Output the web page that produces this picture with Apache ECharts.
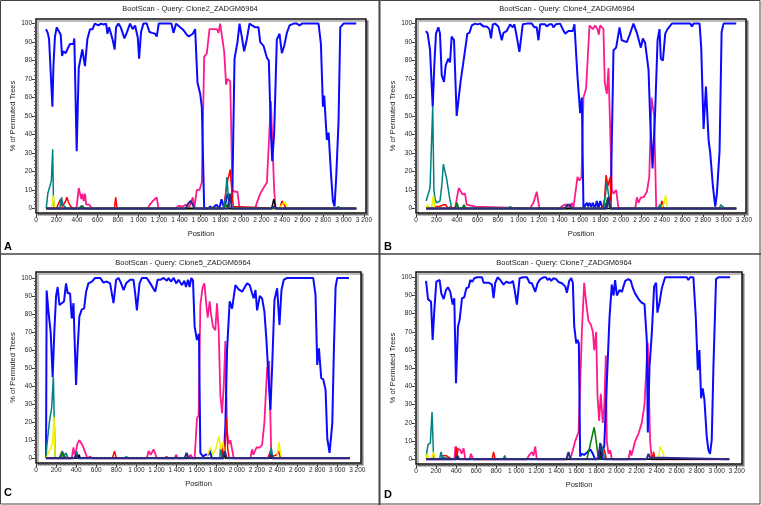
<!DOCTYPE html>
<html>
<head>
<meta charset="utf-8">
<script src="https://cdn.jsdelivr.net/npm/echarts@6/dist/echarts.min.js"></script>
<style>
  html, body { margin: 0; padding: 0; background: #fff; }
  #chart { width: 761px; height: 505px; }
</style>
</head>
<body>
<div id="chart"></div>
<script>
// tick labels
var xTicks = [0, 200, 400, 600, 800, 1000, 1200, 1400, 1600, 1800, 2000, 2200, 2400, 2600, 2800, 3000, 3200];
var yTicks = [0, 10, 20, 30, 40, 50, 60, 70, 80, 90, 100];
var titles = ['BootScan - Query: Clone2_ZADGM6964', 'BootScan - Query: Clone4_ZADGM6964',
              'BootScan - Query: Clone5_ZADGM6964', 'BootScan - Query: Clone7_ZADGM6964'];
var letters = ['A', 'B', 'C', 'D'];

// ---- panel A (Clone2) ----
var blueA = [[98,97],[114,95],[127,92],[137,93],[146,92],[160,55],[170,77],[185,93],[202,98],[221,98],[241,94],[254,82.5],[267,85],[290,84],[309,86.5],[332,89],[365,89],[374,92],[397,31],[417,76],[430,75],[452,86],[478,77],[501,91.5],[527,97],[553,97],[573,100],[609,99],[632,100],[658,99.5],[684,100],[697,94.5],[713,98],[729,95],[749,91],[768,86],[781,98],[804,100],[827,98],[863,92],[885,95],[918,100],[944,97],[967,99],[993,92.5],[1006,81],[1025,95.5],[1048,100],[1081,100],[1107,95.5],[1133,95],[1162,94.5],[1178,93],[1198,100],[1322,100],[1341,95],[1367,100],[1406,98],[1439,96.5],[1471,94],[1491,93],[1510,93],[1530,94.5],[1553,97],[1576,68],[1602,62],[1618,55],[1641,0],[1680,0],[1700,1],[1720,0],[1760,2],[1790,0],[1810,5],[1830,1],[1850,3],[1870,8],[1890,4],[1915,6],[1937,81],[1953,86],[1966,90],[1986,100],[2008,93],[2031,85],[2057,91.5],[2083,100],[2109,99],[2139,98],[2171,98],[2188,90],[2220,88],[2253,81.5],[2272,80],[2292,41],[2305,25.6],[2324,41],[2350,91.5],[2376,94.5],[2399,84],[2422,88],[2448,95],[2474,99],[2513,100],[2546,100],[2572,99],[2594,100],[2757,100],[2780,89],[2800,55],[2812,61],[2838,37],[2855,41],[2878,19],[2897,4],[2913,1],[2930,17.5],[2952,47],[2969,98],[3001,100],[3125,100]];
var pinkA = [[395,0],[405,5],[417,11],[430,11],[442,5],[452,8],[465,4],[478,8],[490,2],[520,2],[545,0],[1090,0],[1110,2],[1140,4],[1178,6],[1195,0],[1330,0],[1345,1],[1360,0],[1395,1.5],[1430,1],[1460,2],[1490,0],[1510,3],[1530,6],[1545,0],[1555,0],[1569,10],[1595,10],[1618,14],[1641,82],[1667,84],[1693,97],[1732,97],[1764,97],[1781,95],[1797,100],[1823,90],[1836,85],[1855,67],[1868,70],[1895,69],[1917,10],[1940,9],[1966,9],[1986,0],[2139,0],[2155,3],[2188,8],[2220,11],[2253,14],[2272,15],[2292,58],[2305,58],[2324,10],[2337,0]];
var redA = [[200,0],[215,2],[240,5],[255,1],[270,2],[290,4],[300,6],[320,3],[340,1],[360,0],[765,0],[778,6],[790,0],[1830,0],[1850,8],[1870,15],[1895,21],[1910,10],[1925,1],[1940,0],[2380,0],[2400,4],[2420,2],[2440,0]];
var tealA = [[100,0],[115,8],[130,7],[150,15],[163,32],[170,5],[178,0],[230,0],[250,6],[262,2],[280,1],[300,0],[420,0],[445,1.5],[460,0],[888,0],[900,1],[912,0],[1830,0],[1850,6],[1862,17],[1875,8],[1890,0],[2930,0],[2950,1],[2970,0],[3030,0],[3040,1],[3050,0]];
var yellowA = [[150,0],[170,7],[180,0],[470,0],[478,1],[490,0],[2380,0],[2400,2],[2430,3.5],[2460,0]];
var greenA = [[440,0],[455,1.5],[470,0],[1830,0],[1860,2],[1880,0]];
var navyA = [[1460,0],[1490,3],[1510,4],[1530,2],[1545,0],[1870,0],[1895,8],[1910,0],[2300,0],[2320,1],[2340,0]];
var blackA = [[440,0],[455,1],[470,0],[2300,0],[2320,5],[2340,0]];

// ---- panel B (Clone4) ----
var blueB = [[98,96],[114,94.6],[137,85.6],[163,55],[179,78],[195,94.6],[218,98],[234,94.6],[251,72],[273,68.5],[290,77.5],[316,81],[332,79],[348,93],[371,91],[397,50],[417,60],[436,69],[462,79],[478,79],[501,94.6],[521,95],[544,99],[576,100],[599,99.6],[625,100],[658,98.5],[690,98.5],[716,97],[732,92],[749,99.6],[772,100],[804,98.5],[837,91],[853,95],[885,96],[918,99.6],[944,98],[960,99.6],[983,93],[1009,84.7],[1042,99.6],[1081,100],[1130,100],[1156,98],[1178,98],[1195,91],[1211,99.6],[1260,99.6],[1276,98.5],[1302,99.6],[1325,99.6],[1341,98],[1364,99.6],[1406,100],[1432,97],[1455,94.6],[1488,96],[1530,96],[1546,99.6],[1562,99],[1576,71],[1602,51.5],[1618,60],[1634,0],[1650,0],[1667,3],[1680,1],[1693,3],[1710,1],[1725,3],[1745,0],[1764,4],[1780,0],[1797,4],[1815,1],[1840,0],[1880,6],[1900,4],[1927,85.6],[1953,87],[1966,86],[1986,98],[2008,91],[2057,90],[2083,93.7],[2122,100],[2155,95],[2171,95],[2194,87],[2214,92],[2236,89.5],[2253,90],[2269,75],[2285,48],[2308,21.6],[2334,53],[2357,91],[2376,97],[2389,81],[2409,80],[2432,94.6],[2454,97],[2497,100],[2676,100],[2692,98.5],[2708,100],[2767,100],[2783,87],[2806,43],[2829,66],[2855,37],[2871,30],[2897,12],[2920,1],[2936,8],[2962,31],[2982,95.5],[3001,100],[3125,100]];
var pinkB = [[381,0],[397,5],[417,11],[436,10],[455,7.5],[470,7],[478,8],[495,2],[510,1],[576,1],[592,0],[1113,0],[1146,3],[1162,2],[1178,9],[1204,0],[1400,0],[1422,1],[1450,2],[1471,2],[1490,0],[1500,1],[1520,3],[1535,0],[1553,0],[1576,17],[1595,15],[1615,17],[1634,60],[1660,65],[1693,99],[1725,97],[1748,99],[1771,97],[1784,94],[1797,99],[1829,97],[1842,68],[1862,62],[1878,76],[1895,77],[1911,10],[1927,8],[1953,10],[1976,0],[2139,0],[2155,6],[2171,3],[2194,6],[2220,6],[2253,9],[2276,17],[2298,60],[2324,50],[2344,0]];
var redB = [[180,0],[200,1],[230,1],[270,2],[290,2],[310,0],[340,1],[360,0],[1280,0],[1295,1],[1310,0],[1820,0],[1840,5],[1855,18],[1872,12],[1895,17],[1905,0],[2380,0],[2400,4],[2415,0]];
var tealB = [[98,4],[114,5],[137,11],[163,55],[175,10],[186,5],[200,3],[218,2],[234,4],[251,12],[267,24],[283,25],[299,16],[316,15],[330,5],[348,0],[385,0],[400,3],[415,0],[900,0],[920,1],[940,0],[1830,0],[1850,8],[1862,14],[1880,7],[1895,0],[2360,0],[2380,2],[2400,0],[2960,0],[2975,2],[2990,1],[3010,0]];
var yellowB = [[100,0],[114,2],[130,0],[150,0],[170,7],[185,0],[740,0],[755,1],[770,0],[2400,0],[2420,3],[2436,7],[2455,0]];
var greenB = [[380,0],[400,3],[415,0],[450,0],[470,2],[485,0],[1600,0],[1615,1],[1630,0],[1850,0],[1870,6],[1890,0]];
var navyB = [[400,0],[415,1],[430,0],[920,0],[935,1],[950,0],[1450,0],[1480,2],[1500,2],[1520,0],[1860,0],[1880,6],[1895,0]];
var blackB = [[410,0],[420,1],[430,0],[2360,0],[2375,1],[2390,0]];

// ---- panel C (Clone5) ----
var blueC = [[106,93],[123,82],[146,70],[166,45],[183,71],[200,90],[216,95],[233,85],[256,86],[279,87],[299,97],[316,91.5],[339,91.5],[356,77.6],[373,86],[399,40.7],[412,58],[432,78.6],[456,82.6],[479,83],[499,92.4],[522,97],[556,98],[589,100],[639,100],[672,97.4],[705,98],[738,97],[772,86],[798,99],[822,100],[845,97.4],[872,93.3],[898,97],[938,99],[971,99],[988,91.5],[1005,82],[1031,97],[1055,100],[1104,100],[1138,97],[1154,98],[1188,92.4],[1211,99],[1238,99],[1271,100],[1304,98.5],[1321,100],[1344,98],[1371,100],[1397,97],[1420,99],[1454,96],[1477,98.5],[1494,95],[1514,99],[1530,95],[1547,100],[1564,98.5],[1580,73],[1603,65.6],[1623,69],[1637,3],[1663,1],[1690,2],[1703,3],[1720,2],[1736,5],[1750,0],[1870,0],[1886,18],[1903,60],[1929,87],[1953,83],[1986,96],[2019,93.7],[2053,92.4],[2102,97],[2129,96],[2152,91.5],[2169,88.7],[2186,93.3],[2202,82],[2229,90],[2252,88.7],[2275,81.3],[2295,65.6],[2319,41.6],[2335,26.8],[2352,50.8],[2375,87.8],[2402,94.3],[2425,74],[2445,93.3],[2468,99],[2502,100],[2761,100],[2784,90.6],[2801,51.8],[2818,61],[2841,44.4],[2861,43.8],[2884,38],[2901,11],[2924,3],[2951,19.4],[2967,60],[2984,95],[3000,100],[3117,100]];
var pinkC = [[356,0],[373,6],[385,2],[399,4],[412,8],[432,10],[456,8],[472,6],[485,6],[512,0],[539,1],[560,0],[1104,0],[1121,4],[1144,2],[1171,5],[1204,0],[1380,0],[1397,2],[1410,0],[1520,0],[1540,2],[1560,0],[1580,0],[1603,22],[1620,24],[1637,85],[1660,95],[1677,97],[1697,85],[1710,78],[1730,87],[1743,80],[1763,73],[1786,71],[1803,86],[1820,70],[1836,35],[1853,25],[1870,40],[1886,65],[1903,15],[1919,8],[1936,10],[1970,0],[2136,0],[2152,5],[2165,2],[2196,6],[2229,6],[2252,7.5],[2275,20],[2302,50],[2322,54],[2342,5],[2352,0]];
var redC = [[230,0],[245,2],[260,4],[275,4],[290,1],[310,0],[760,0],[782,4],[800,0],[830,0],[845,1],[860,0],[1280,0],[1300,1],[1320,0],[1850,0],[1865,7],[1880,4],[1896,22],[1910,5],[1925,0],[2310,0],[2335,4],[2350,1],[2400,2],[2419,4],[2435,0]];
var tealC = [[106,6],[133,20],[156,28],[173,45],[190,0],[240,0],[260,4],[275,1],[300,3],[320,0],[390,0],[405,4],[420,1],[440,0],[880,0],[900,1],[920,0],[1830,0],[1840,7],[1850,1],[1870,0],[2330,0],[2342,6],[2360,0]];
var yellowC = [[100,0],[140,5],[166,8],[180,23],[190,0],[1700,0],[1736,6],[1760,2],[1790,5],[1820,12],[1843,5],[1863,9],[1880,0],[2400,0],[2419,9],[2435,3],[2450,0]];
var greenC = [[250,0],[265,3],[280,0],[400,0],[410,2],[425,0],[1860,0],[1875,4],[1890,0]];
var navyC = [[380,0],[400,2],[420,0],[1480,0],[1500,3],[1520,0],[1860,0],[1880,4],[1900,0],[2320,0],[2340,2],[2360,0]];
var blackC = [[420,0],[430,2],[440,0],[1860,0],[1872,3],[1885,0]];

// ---- panel D (Clone7) ----
var blueD = [[100,98],[120,88],[133,89],[150,86.6],[166,65.6],[183,82],[203,97.6],[236,98.5],[253,91],[276,88],[299,93],[319,94.5],[342,92],[366,85],[382,88.5],[399,41.8],[419,73],[435,76.5],[459,88.5],[482,89],[502,94],[525,94.5],[542,98.5],[562,97.6],[582,99.5],[608,100],[658,100],[675,97],[725,97],[758,96],[774,88.5],[791,97],[814,100],[841,98.5],[874,96],[901,97.6],[924,97],[947,97],[967,98],[984,93],[1007,85],[1034,99.5],[1067,100],[1107,100],[1133,97],[1157,96.7],[1173,97.6],[1190,92],[1213,96.7],[1240,99],[1273,100],[1296,100],[1313,98.5],[1333,99.5],[1349,98],[1373,99.5],[1399,99],[1422,97.4],[1456,96.7],[1489,95],[1506,91.5],[1529,98],[1549,99.5],[1565,97],[1579,73],[1599,63.7],[1612,65.6],[1625,63.7],[1638,1.5],[1655,3],[1678,2.4],[1712,4],[1738,5.5],[1765,3],[1788,0],[1838,1],[1878,7],[1904,42],[1931,78],[1954,96],[1971,90],[1987,98.5],[2004,90],[2031,93],[2054,92],[2087,98],[2120,99],[2144,98],[2164,94],[2187,91],[2203,92],[2227,87.5],[2253,86],[2280,85.3],[2303,65.6],[2313,14.7],[2330,51],[2353,69],[2376,95],[2396,97],[2409,80.6],[2429,85.7],[2453,94],[2486,100],[2702,100],[2718,98.5],[2735,100],[2768,100],[2792,78],[2812,49],[2828,60],[2845,33.5],[2861,39],[2878,32.6],[2901,12.5],[2918,5],[2934,3],[2951,10.6],[2968,51],[2994,99],[3018,100],[3134,100]];
var pinkD = [[385,0],[393,7],[409,2],[419,6],[442,5],[455,3],[475,6],[492,0],[535,0],[548,3],[568,0],[1107,0],[1125,2],[1157,4],[1173,2],[1190,7],[1206,0],[1539,0],[1565,5],[1589,10],[1622,15],[1638,40],[1655,70],[1678,97],[1698,86],[1721,76],[1745,74],[1765,70],[1778,60],[1798,70],[1811,35],[1828,21],[1844,36],[1864,20],[1878,28],[1894,57],[1904,10],[1921,3],[1938,5],[1954,0],[2120,0],[2137,5],[2150,2],[2187,10],[2220,14],[2253,20],[2280,30],[2303,55],[2313,64],[2336,10],[2353,0]];
var redD = [[250,0],[265,2],[300,2],[330,1],[360,0],[390,0],[402,7],[415,0],[760,0],[774,4],[790,0],[1270,0],[1285,1],[1300,0],[1820,0],[1840,8],[1860,6],[1880,5],[1900,0],[2355,0],[2370,4],[2385,0]];
var tealD = [[103,2],[120,8],[143,9],[160,26],[176,0],[235,0],[249,4],[265,1],[280,0],[400,0],[410,2],[425,0],[870,0],[885,2],[900,0],[1830,0],[1850,8],[1870,3],[1890,0],[2960,0],[2975,1],[2990,0]];
var yellowD = [[100,0],[110,3],[130,0],[150,0],[176,4],[190,0],[700,0],[715,1],[730,0],[2420,0],[2436,7],[2455,6],[2469,3],[2480,0]];
var greenD = [[400,0],[415,1],[430,0],[1705,0],[1738,8],[1778,17.6],[1798,10],[1820,0]];
var navyD = [[400,0],[415,2],[430,0],[1330,0],[1345,1],[1360,0],[1500,0],[1522,4],[1540,0],[1820,0],[1838,9],[1850,5],[1865,0],[2300,0],[2320,3],[2335,1],[2350,0]];
var blackD = [[1825,0],[1838,8],[1850,0]];

var panelData = [
  {pink: pinkA, blue: blueA, red: redA, teal: tealA, yellow: yellowA, green: greenA, black: blackA, navy: navyA},
  {pink: pinkB, blue: blueB, red: redB, teal: tealB, yellow: yellowB, green: greenB, black: blackB, navy: navyB},
  {pink: pinkC, blue: blueC, red: redC, teal: tealC, yellow: yellowC, green: greenC, black: blackC, navy: navyC},
  {pink: pinkD, blue: blueD, red: redD, teal: tealD, yellow: yellowD, green: greenD, black: blackD, navy: navyD}
];

// layout of the four panels
var layout = [
  {left: 36,  top: 19,  width: 330, height: 194, xMax: 3220, yMin: -2.5, yMax: 102.5, titleX: 190, titleY: 9,   letterX: 4,   letterY: 247},
  {left: 416, top: 19,  width: 330, height: 194, xMax: 3220, yMin: -2.5, yMax: 102.5, titleX: 567, titleY: 9,   letterX: 384, letterY: 247},
  {left: 36,  top: 272, width: 325, height: 191, xMax: 3237, yMin: -2.6, yMax: 103.3, titleX: 183, titleY: 263, letterX: 4,   letterY: 493},
  {left: 416, top: 272, width: 326, height: 192, xMax: 3253, yMin: -2.6, yMax: 102.9, titleX: 564, titleY: 263, letterX: 384, letterY: 495}
];

var colors = {pink: '#ff1a8c', blue: '#0a0aff', red: '#ff0000', teal: '#008080', yellow: '#f2f200', green: '#008000', black: '#000000', navy: '#2a2a8c'};
var widths = {pink: 1.8, blue: 2, red: 1.5, teal: 1.5, yellow: 1.5, green: 1.5, black: 1.5, navy: 2};
var order = ['pink', 'blue', 'red', 'teal', 'yellow', 'green', 'black', 'navy'];

var xMinor = [];
for (var v = 0; v <= 3200; v += 40) xMinor.push(v);
var yMinor = [];
for (var w = 0; w <= 100; w += 2) yMinor.push(w);

var font = 'Liberation Sans, Arial, sans-serif';

function fmtPos(v) {
  if (v < 1000) return String(v);
  var r = v % 1000;
  return Math.floor(v / 1000) + ' ' + (r < 10 ? '00' : r < 100 ? '0' : '') + r;
}

// lines sit at 0 outside their bumps
function withBase(pts) {
  var out = pts.slice();
  if (out[0][0] > 105) out.unshift([100, 0]);
  if (out[out.length - 1][0] < 3100) out.push([3125, 0]);
  return out;
}

var grids = [], xAxes = [], yAxes = [], series = [], graphics = [];

layout.forEach(function (p, i) {
  grids.push({
    left: p.left, top: p.top, width: p.width, height: p.height,
    show: true, backgroundColor: '#fff', borderColor: '#111', borderWidth: 1.5,
    shadowColor: 'rgba(0,0,0,0.35)', shadowOffsetX: 2, shadowOffsetY: 2, shadowBlur: 0
  });
  // main axes
  xAxes.push({
    type: 'value', gridIndex: i, min: 0, max: p.xMax, position: 'bottom',
    name: 'Position', nameLocation: 'middle', nameGap: 17,
    nameTextStyle: {fontSize: 7.5, color: '#222', fontFamily: font},
    axisLine: {show: false, onZero: false},
    axisTick: {show: true, customValues: xTicks, length: 4, lineStyle: {color: '#333'}},
    axisLabel: {customValues: xTicks, formatter: fmtPos, fontSize: 6.5, color: '#222', margin: 4, fontFamily: font},
    splitLine: {show: false}
  });
  yAxes.push({
    type: 'value', gridIndex: i, min: p.yMin, max: p.yMax, position: 'left',
    name: '% of Permuted Trees', nameLocation: 'middle', nameGap: 19,
    nameTextStyle: {fontSize: 7.5, color: '#222', fontFamily: font},
    axisLine: {show: false, onZero: false},
    axisTick: {show: true, customValues: yTicks, length: 4, lineStyle: {color: '#333'}},
    axisLabel: {customValues: yTicks, fontSize: 6.5, color: '#222', margin: 4, fontFamily: font},
    splitLine: {show: false}
  });
  // minor tick axes
  xAxes.push({
    type: 'value', gridIndex: i, min: 0, max: p.xMax, position: 'bottom',
    axisLine: {show: false, onZero: false},
    axisTick: {show: true, customValues: xMinor, length: 2, lineStyle: {color: '#555'}},
    axisLabel: {show: false}, splitLine: {show: false}
  });
  yAxes.push({
    type: 'value', gridIndex: i, min: p.yMin, max: p.yMax, position: 'left',
    axisLine: {show: false, onZero: false},
    axisTick: {show: true, customValues: yMinor, length: 2, lineStyle: {color: '#555'}},
    axisLabel: {show: false}, splitLine: {show: false}
  });

  order.forEach(function (k) {
    series.push({
      type: 'line', xAxisIndex: i * 2, yAxisIndex: i * 2,
      data: withBase(panelData[i][k]),
      showSymbol: false, symbol: 'none', silent: true,
      lineStyle: {color: colors[k], width: widths[k]},
      z: 3
    });
  });

  graphics.push({
    type: 'text', x: p.titleX, y: p.titleY,
    style: {text: titles[i], font: '7.5px ' + font, fill: '#222', align: 'center', verticalAlign: 'middle'}
  });
  graphics.push({
    type: 'text', x: p.letterX, y: p.letterY,
    style: {text: letters[i], font: 'bold 11px ' + font, fill: '#000', align: 'left', verticalAlign: 'middle'}
  });
});

// panel frames
graphics.push({type: 'rect', shape: {x: 0.5, y: 0.5, width: 759.5, height: 503.5}, style: {fill: null, stroke: '#444', lineWidth: 1}});
graphics.push({type: 'line', shape: {x1: 379.5, y1: 0, x2: 379.5, y2: 505}, style: {stroke: '#444', lineWidth: 2}});
graphics.push({type: 'line', shape: {x1: 0, y1: 254, x2: 761, y2: 254}, style: {stroke: '#444', lineWidth: 1.5}});

var chart = echarts.init(document.getElementById('chart'), null, {renderer: 'canvas'});
chart.setOption({
  animation: false,
  backgroundColor: '#fff',
  grid: grids,
  xAxis: xAxes,
  yAxis: yAxes,
  series: series,
  graphic: graphics
});
</script>
</body>
</html>
